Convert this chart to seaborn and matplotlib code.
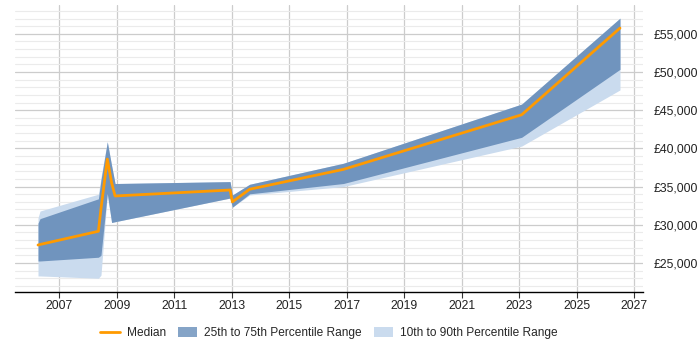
import matplotlib
matplotlib.use("Agg")
import matplotlib.pyplot as plt
import seaborn as sns
import pandas as pd
from matplotlib.lines import Line2D
from matplotlib.patches import Patch
from matplotlib.ticker import MultipleLocator, FuncFormatter

# Data (fractional years)
years = [2006.26, 2006.33, 2008.36, 2008.45, 2008.67, 2008.82, 2008.94, 2012.94, 2013.02, 2013.62, 2016.88, 2023.08, 2026.50]
median = [27350, 27420, 29150, 32100, 38600, 35500, 33770, 34550, 33000, 34650, 37250, 44400, 55750]
p25 = [25260, 25260, 25750, 26000, 34100, 30300, 30400, 33500, 32300, 34050, 35400, 41450, 50350]
p75 = [30200, 30800, 33400, 35850, 40850, 37750, 35400, 35650, 33900, 35300, 38050, 45800, 57050]
p10 = [23300, 23300, 23000, 23400, 34000, 30300, 30400, 33500, 32300, 33900, 35000, 40300, 47650]
p90 = [30900, 31800, 34000, 36200, 40900, 37750, 35400, 35650, 33900, 35300, 38050, 45800, 57050]
x_ticks = list(range(2007, 2028, 2))
legend_labels = ["Median", "25th to 75th Percentile Range", "10th to 90th Percentile Range"]

df = pd.DataFrame({"year": years, "median": median, "p25": p25, "p75": p75,
                   "p10": p10, "p90": p90})

sns.set_theme(style="white")
plt.rcParams['font.family'] = ['Liberation Sans', 'DejaVu Sans']

C_MED = "#ff9a00"
C_DARK = "#7094be"
C_LIGHT = "#cadbee"

fig = plt.figure(figsize=(7, 3.5), dpi=100)
ax = fig.add_axes([15/700, 1-292/350, 628/700, 287/350])

ax.fill_between(df["year"], df["p10"], df["p90"], color=C_LIGHT, lw=0, zorder=2)
ax.fill_between(df["year"], df["p25"], df["p75"], color=C_DARK, lw=0, zorder=3)
sns.lineplot(data=df, x="year", y="median", ax=ax, color=C_MED, lw=2, zorder=4,
             legend=False)

ax.set_xlim(2005.46, 2027.30)
ax.set_ylim(21200, 58770)
ax.set_xticks(x_ticks)
ax.set_xticklabels([str(t) for t in x_ticks])
ax.yaxis.set_major_locator(MultipleLocator(5000))
ax.yaxis.set_minor_locator(MultipleLocator(1000))
ax.yaxis.set_major_formatter(FuncFormatter(lambda v, p: f"£{int(v):,}"))
ax.yaxis.tick_right()

ax.grid(axis="x", which="major", color="#cccccc", lw=0.9, zorder=0)
ax.grid(axis="y", which="major", color="#cccccc", lw=0.9, zorder=0)
ax.grid(axis="y", which="minor", color="#ebebeb", lw=0.8, zorder=0)
ax.set_axisbelow(True)

for s in ["top", "left", "right"]:
    ax.spines[s].set_visible(False)
ax.spines["bottom"].set_color("black")
ax.spines["bottom"].set_linewidth(1)

ax.tick_params(axis="x", which="major", length=4, width=0.8, color="#333333",
               labelsize=8.8, labelcolor="#222222", pad=2, direction="out", bottom=True)
ax.tick_params(axis="y", which="both", length=0, labelsize=8.8, labelcolor="#222222", pad=8)
ax.set_xlabel("")
ax.set_ylabel("")

handles = [Line2D([0], [0], color=C_MED, lw=2),
           Patch(facecolor=C_DARK, edgecolor="none", alpha=0.85),
           Patch(facecolor=C_LIGHT, edgecolor="none")]
fig.legend(handles, legend_labels, loc="center", bbox_to_anchor=(329/700, 1-333/350),
           ncol=3, frameon=False, fontsize=8.6, handlelength=1.6, handleheight=1.0,
           columnspacing=1.0, handletextpad=0.6)

fig.savefig("out.png", dpi=100)
